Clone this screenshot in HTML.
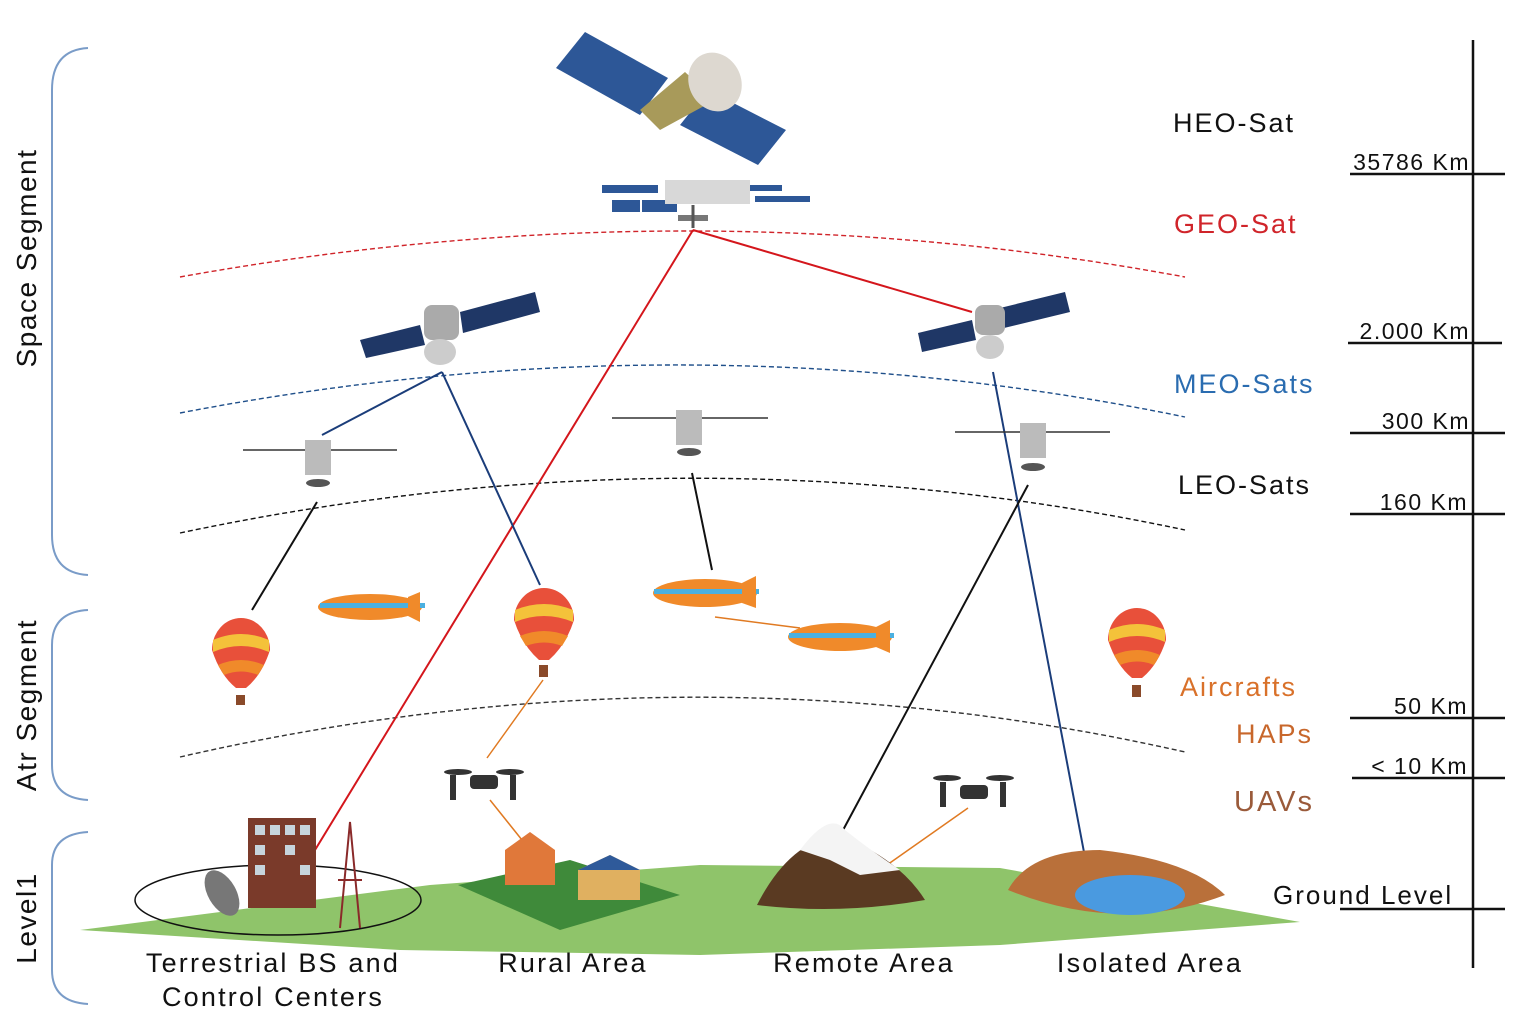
<!DOCTYPE html>
<html><head><meta charset="utf-8"><style>
html,body{margin:0;padding:0;background:#fff;}
svg{display:block;font-family:"Liberation Sans",sans-serif;}
</style></head><body>
<svg width="1536" height="1024" viewBox="0 0 1536 1024" xmlns="http://www.w3.org/2000/svg">
<rect width="1536" height="1024" fill="#fff"/>
<g fill="none" stroke="#7a9cc8" stroke-width="2">
<path d="M88 48 Q52 50 52 90 L52 535 Q52 573 88 575"/>
<path d="M88 610 Q52 612 52 645 L52 765 Q52 798 88 800"/>
<path d="M88 832 Q52 834 52 865 L52 970 Q52 1002 88 1004"/>
</g>
<g font-size="28" fill="#111" letter-spacing="1.5">
<text transform="translate(36,258) rotate(-90)" text-anchor="middle">Space Segment</text>
<text transform="translate(36,705) rotate(-90)" text-anchor="middle">Atr Segment</text>
<text transform="translate(36,918) rotate(-90)" text-anchor="middle">Level1</text>
</g>
<g stroke="#111" stroke-width="2.5">
<line x1="1473" y1="40" x2="1473" y2="968"/>
<line x1="1350" y1="174" x2="1505" y2="174"/>
<line x1="1348" y1="343" x2="1502" y2="343"/>
<line x1="1350" y1="433" x2="1505" y2="433"/>
<line x1="1350" y1="514" x2="1505" y2="514"/>
<line x1="1350" y1="718" x2="1505" y2="718"/>
<line x1="1352" y1="778" x2="1505" y2="778"/>
<line x1="1340" y1="909" x2="1505" y2="909"/>
</g>
<g font-size="23" fill="#111" text-anchor="end" letter-spacing="1.5">
<text x="1470" y="170">35786 Km</text>
<text x="1470" y="339">2.000 Km</text>
<text x="1470" y="429">300 Km</text>
<text x="1468" y="510">160 Km</text>
<text x="1468" y="714">50 Km</text>
<text x="1468" y="774">&lt; 10 Km</text>
</g>
<g font-size="27" letter-spacing="2">
<text x="1173" y="132" fill="#111">HEO-Sat</text>
<text x="1174" y="233" fill="#d0242a">GEO-Sat</text>
<text x="1174" y="393" fill="#2a6cb0">MEO-Sats</text>
<text x="1178" y="494" fill="#111">LEO-Sats</text>
<text x="1180" y="696" fill="#d9712a">Aircrafts</text>
<text x="1236" y="743" fill="#c8672b">HAPs</text>
<text x="1234" y="811" fill="#9a5a3a" font-size="29">UAVs</text>
<text x="1273" y="904" fill="#111" font-size="26">Ground Level</text>
</g>
<g fill="none" stroke-width="1.4" stroke-dasharray="5,3">
<path d="M180 277 Q690 185 1185 277" stroke="#d0242a"/>
<path d="M180 413 Q690 315 1185 417" stroke="#1f4f8a"/>
<path d="M180 533 Q690 425 1185 530" stroke="#111"/>
<path d="M180 757 Q690 640 1185 752" stroke="#333"/>
</g>
<path d="M80 930 L430 885 L700 865 L1000 868 L1300 922 L1000 945 L700 955 L400 950 Z" fill="#8fc46a"/>
<ellipse cx="278" cy="900" rx="143" ry="35" fill="none" stroke="#111" stroke-width="1.5"/>
<g fill="none" stroke-width="2">
<path d="M693 230 L315 850 M693 230 L972 312" stroke="#d4161c"/>
<path d="M442 372 L322 435 M442 372 L540 585 M993 372 L1087 868" stroke="#1b3d7a"/>
<path d="M317 502 L252 610 M692 473 L712 570 M1028 485 L842 832" stroke="#111"/>
<path d="M543 680 L487 758 M715 617 L800 628 M968 808 L877 872 M490 800 L530 850" stroke="#e07a22" stroke-width="1.5"/>
</g>
<g>
<polygon points="556,68 585,32 668,78 640,115" fill="#2d5797"/>
<polygon points="680,125 708,90 786,130 758,165" fill="#2d5797"/>
<polygon points="640,110 685,72 715,100 660,130" fill="#a89a5a"/>
<ellipse cx="715" cy="82" rx="26" ry="30" fill="#ddd8d0" transform="rotate(-25 715 82)"/>
</g>
<g fill="#2d5797">
<rect x="602" y="185" width="28" height="8"/><rect x="630" y="185" width="28" height="8"/>
<rect x="612" y="200" width="28" height="12"/><rect x="642" y="200" width="35" height="12"/>
<rect x="732" y="185" width="50" height="6"/><rect x="755" y="196" width="55" height="6"/>
<rect x="665" y="180" width="85" height="24" fill="#d8d8d8"/>
<rect x="678" y="215" width="30" height="6" fill="#777"/>
<line x1="693" y1="205" x2="693" y2="228" stroke="#555" stroke-width="3"/>
</g>
<g>
<polygon points="360,340 420,325 425,345 366,358" fill="#1f3766"/>
<polygon points="460,312 535,292 540,312 463,333" fill="#1f3766"/>
<rect x="424" y="305" width="35" height="35" rx="8" fill="#aaa"/>
<ellipse cx="440" cy="352" rx="16" ry="13" fill="#ccc"/>
<polygon points="918,333 972,320 976,340 922,352" fill="#1f3766"/>
<polygon points="1000,308 1065,292 1070,312 1004,328" fill="#1f3766"/>
<rect x="975" y="305" width="30" height="30" rx="8" fill="#aaa"/>
<ellipse cx="990" cy="347" rx="14" ry="12" fill="#ccc"/>
</g>
<g stroke="#333" stroke-width="1.5">
<line x1="243" y1="450" x2="397" y2="450"/><line x1="612" y1="418" x2="768" y2="418"/><line x1="955" y1="432" x2="1110" y2="432"/>
</g>
<g fill="#bbb">
<rect x="305" y="440" width="26" height="35"/><rect x="676" y="410" width="26" height="35"/><rect x="1020" y="423" width="26" height="35"/>
<ellipse cx="318" cy="483" rx="12" ry="4" fill="#555"/><ellipse cx="689" cy="452" rx="12" ry="4" fill="#555"/><ellipse cx="1033" cy="467" rx="12" ry="4" fill="#555"/>
</g>
<g>
<path d="M212 650 A29 32 0 1 1 270 650 Q262 675 246 688 L236 688 Q220 675 212 650Z" fill="#e8503a"/><path d="M213 640 Q241 628 269 640 L269 652 Q241 640 213 652Z" fill="#f4c23a"/><path d="M218 665 Q241 655 264 665 L258 675 Q241 668 224 675Z" fill="#f08a2a"/><rect x="236" y="695" width="9" height="10" fill="#8a4a2a"/>
<path d="M514 620 A30 32 0 1 1 574 620 Q566 645 549 660 L539 660 Q522 645 514 620Z" fill="#e8503a"/><path d="M515 610 Q544 598 573 610 L573 622 Q544 610 515 622Z" fill="#f4c23a"/><path d="M520 636 Q544 626 568 636 L562 646 Q544 639 526 646Z" fill="#f08a2a"/><rect x="539" y="665" width="9" height="12" fill="#8a4a2a"/>
<path d="M1108 640 A29 32 0 1 1 1166 640 Q1158 665 1142 678 L1132 678 Q1116 665 1108 640Z" fill="#e8503a"/><path d="M1109 630 Q1137 618 1165 630 L1165 642 Q1137 630 1109 642Z" fill="#f4c23a"/><path d="M1114 655 Q1137 645 1160 655 L1154 665 Q1137 658 1120 665Z" fill="#f08a2a"/><rect x="1132" y="685" width="9" height="12" fill="#8a4a2a"/>
</g>
<g>
<ellipse cx="370" cy="607" rx="52" ry="13" fill="#f08a2a"/><rect x="320" y="603" width="105" height="5" fill="#4ab0e0"/><polygon points="408,597 420,592 420,622 408,616" fill="#f08a2a"/>
<ellipse cx="705" cy="593" rx="52" ry="14" fill="#f08a2a"/><rect x="654" y="589" width="105" height="5" fill="#4ab0e0"/><polygon points="742,583 756,576 756,608 742,603" fill="#f08a2a"/>
<ellipse cx="840" cy="637" rx="52" ry="14" fill="#f08a2a"/><rect x="789" y="633" width="105" height="5" fill="#4ab0e0"/><polygon points="876,627 890,620 890,653 876,647" fill="#f08a2a"/>
</g>
<g fill="#333">
<rect x="470" y="775" width="28" height="14" rx="4"/><ellipse cx="458" cy="772" rx="14" ry="3"/><ellipse cx="510" cy="772" rx="14" ry="3"/><rect x="450" y="775" width="6" height="25"/><rect x="510" y="775" width="6" height="25"/>
<rect x="960" y="785" width="28" height="14" rx="4"/><ellipse cx="947" cy="778" rx="14" ry="3"/><ellipse cx="1000" cy="778" rx="14" ry="3"/><rect x="940" y="782" width="6" height="25"/><rect x="1000" y="782" width="6" height="25"/>
</g>
<rect x="248" y="818" width="68" height="90" fill="#7a3a2a"/>
<g fill="#c6d4dc"><rect x="255" y="825" width="10" height="10"/><rect x="270" y="825" width="10" height="10"/><rect x="285" y="825" width="10" height="10"/><rect x="300" y="825" width="10" height="10"/><rect x="255" y="845" width="10" height="10"/><rect x="285" y="845" width="10" height="10"/><rect x="255" y="865" width="10" height="10"/><rect x="300" y="865" width="10" height="10"/></g>
<path d="M340 928 L350 822 L360 928 M338 880 L362 880" stroke="#8a2a2a" stroke-width="2" fill="none"/>
<ellipse cx="222" cy="893" rx="14" ry="25" fill="#777" transform="rotate(-30 222 893)"/>
<polygon points="458,885 570,860 680,895 560,930" fill="#3f8a3a"/>
<polygon points="505,850 530,832 555,850 555,885 505,885" fill="#e0783a"/>
<polygon points="578,870 610,855 640,870 640,900 578,900" fill="#e0b060"/><polygon points="578,870 610,855 640,870" fill="#2f5a9a"/>
<path d="M757 905 Q790 840 840 835 Q900 860 925 900 Q840 915 757 905Z" fill="#5a3a22"/>
<path d="M800 850 Q830 810 845 830 Q870 850 900 870 L860 875 L830 860Z" fill="#f4f4f4"/>
<path d="M1008 890 Q1030 850 1100 850 Q1190 860 1225 895 Q1120 935 1008 890Z" fill="#b9703a"/>
<ellipse cx="1130" cy="895" rx="55" ry="20" fill="#4a9ae0"/>
<g font-size="27" fill="#111" text-anchor="middle" letter-spacing="2.2">
<text x="273" y="972">Terrestrial BS and</text>
<text x="273" y="1006">Control Centers</text>
<text x="573" y="972">Rural Area</text>
<text x="864" y="972">Remote Area</text>
<text x="1150" y="972">Isolated Area</text>
</g>
</svg>
</body></html>
